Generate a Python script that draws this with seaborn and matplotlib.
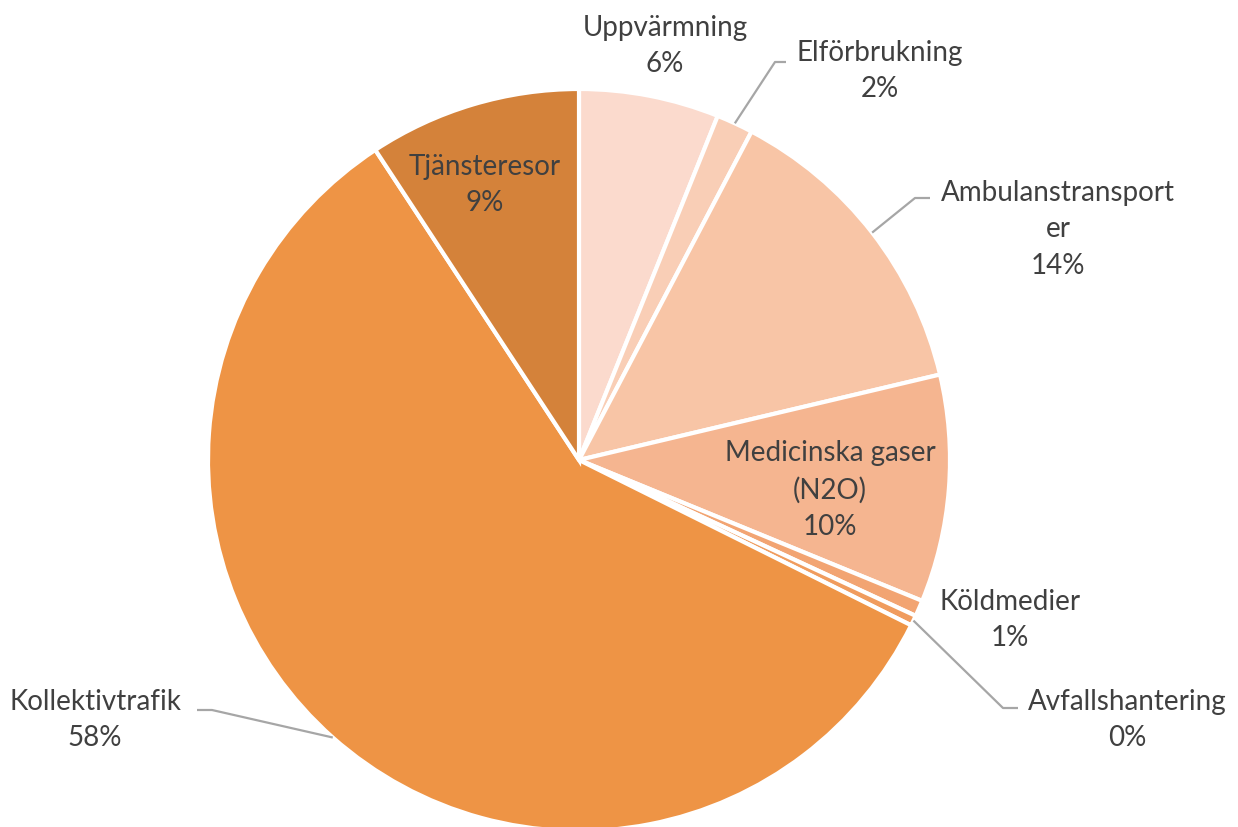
import numpy as np
import matplotlib
matplotlib.use("Agg")
import matplotlib.pyplot as plt
import seaborn as sns

categories = ["Uppvärmning", "Elförbrukning", "Ambulanstransporter", "Medicinska gaser (N2O)",
              "Köldmedier", "Avfallshantering", "Kollektivtrafik", "Tjänsteresor"]
display_labels = ["Uppvärmning", "Elförbrukning", "Ambulanstransport\ner", "Medicinska gaser\n(N2O)",
                  "Köldmedier", "Avfallshantering", "Kollektivtrafik", "Tjänsteresor"]
values = [6.1, 1.6, 13.6, 9.9, 0.7, 0.45, 58.4, 9.25]
pct_labels = ["6%", "2%", "14%", "10%", "1%", "0%", "58%", "9%"]
colors = ["#FBDACD", "#F9CEB6", "#F8C5A6", "#F5B590", "#F2A472", "#F09C5E", "#EE9445", "#D4823A"]

sns.set_theme(style="white")
plt.rcParams['font.family'] = ['Lato', 'DejaVu Sans']

W, H = 1238, 827
fig = plt.figure(figsize=(W / 100, H / 100), dpi=100)
ax = fig.add_axes([0, 0, 1, 1])

cx, cy, R = 579, 460, 371   # pixel coords (y from top)
wedges, _ = ax.pie(values, colors=sns.color_palette(colors), startangle=90, counterclock=False,
                   center=(cx, H - cy), radius=R, frame=True,
                   wedgeprops=dict(edgecolor="white", linewidth=3))
ax.set_xlim(0, W)
ax.set_ylim(0, H)
ax.set_aspect("equal")
ax.axis("off")

txt_color = "#404040"
fs = 20
# label block centers (pixel coords from top) and optional leader elbows
label_pos = {
    0: (665, 46, None),
    1: (880, 71, (775, 62, 786)),
    2: (1058, 229, (915, 198, 930)),
    3: (830, 490, None),
    4: (1010, 620, None),
    5: (1127, 720, (1003, 708, 1018)),
    6: (95, 720, (212, 710, 197)),
    7: (485, 185, None),
}

cum = np.cumsum([0] + values[:-1])
total = sum(values)
for i, (lab, pct) in enumerate(zip(display_labels, pct_labels)):
    x, y, leader = label_pos[i]
    ax.text(x, H - y, f"{lab}\n{pct}", ha="center", va="center", fontsize=fs,
            color=txt_color, linespacing=1.5)
    if leader is not None:
        mid = (cum[i] + values[i] / 2) / total * 360
        ang = np.deg2rad(90 - mid)
        ex = cx + R * np.cos(ang)
        ey = (H - cy) + R * np.sin(ang)
        ax.plot([ex, leader[0], leader[2]], [ey, H - leader[1], H - leader[1]],
                color="#A6A6A6", lw=1.6, solid_capstyle="butt")

fig.savefig("out.png", dpi=100, facecolor="white")
